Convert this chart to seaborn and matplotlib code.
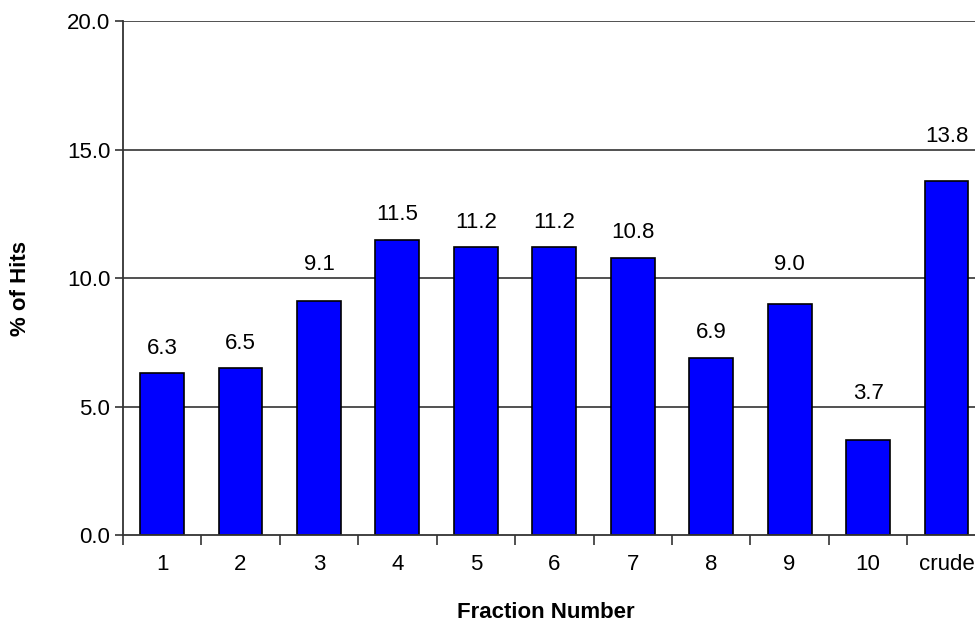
import matplotlib
matplotlib.use("Agg")
import matplotlib.pyplot as plt
import seaborn as sns
import pandas as pd
import numpy as np

# Hit rate per fraction
fractions = ["1", "2", "3", "4", "5", "6", "7", "8", "9", "10", "crude"]
hits_pct = [6.3, 6.5, 9.1, 11.5, 11.2, 11.2, 10.8, 6.9, 9.0, 3.7, 13.8]
y_ticks = [0.0, 5.0, 10.0, 15.0, 20.0]

df = pd.DataFrame({"fraction": fractions, "hits": hits_pct})

sns.set_style("white")
plt.rcParams["font.family"] = ["Liberation Sans", "DejaVu Sans"]
plt.rcParams["text.color"] = "black"
plt.rcParams["axes.labelcolor"] = "black"
plt.rcParams["xtick.color"] = "black"
plt.rcParams["ytick.color"] = "black"

fig = plt.figure(figsize=(9.75, 6.26), dpi=100)
ax = fig.add_axes([0.126, 0.1454, 0.885, 0.8203])

sns.barplot(data=df, x="fraction", y="hits", order=fractions, color="#0000FF",
            saturation=1, width=0.56, edgecolor="black", linewidth=1.2, ax=ax)

ax.set_ylim(0, 20)
ax.set_xlim(-0.5, len(fractions) - 0.5)

# horizontal gridlines
for t in y_ticks[1:]:
    ax.axhline(t, color="#222222", linewidth=1.1, zorder=0)

ax.set_yticks(y_ticks)
ax.set_yticklabels([f"{t:.1f}" for t in y_ticks], fontsize=16)
ax.tick_params(axis="y", left=True, direction="out", length=6, width=1.2,
               color="#333333", labelcolor="black", pad=3)

# category labels centred, tick marks between categories
ax.set_xticks(range(len(fractions)))
ax.set_xticklabels(fractions, fontsize=16)
ax.tick_params(axis="x", which="major", bottom=False, labelcolor="black", pad=10)
ax.set_xticks(np.arange(-0.5, len(fractions), 1.0), minor=True)
ax.tick_params(axis="x", which="minor", bottom=True, direction="out", length=7,
               width=1.2, color="#333333")

for side in ["top", "right"]:
    ax.spines[side].set_visible(False)
for side in ["left", "bottom"]:
    ax.spines[side].set_color("#333333")
    ax.spines[side].set_linewidth(1.3)

# value labels above bars, lifted clear of any gridline they would cross
for i, v in enumerate(hits_pct):
    y = v + 0.97
    for g in y_ticks[1:]:
        if abs(y - g) < 0.5:
            y = g + 0.52
    ax.text(i, y, f"{v:.1f}", ha="center", va="center", fontsize=16, color="black")

ax.set_xlabel("Fraction Number", fontsize=16, fontweight="bold")
ax.xaxis.set_label_coords(0.4903, -0.13)
ax.set_ylabel("% of Hits", fontsize=16, fontweight="bold")
ax.yaxis.set_label_coords(-0.106, 0.48)

fig.savefig("out.png", dpi=100)
